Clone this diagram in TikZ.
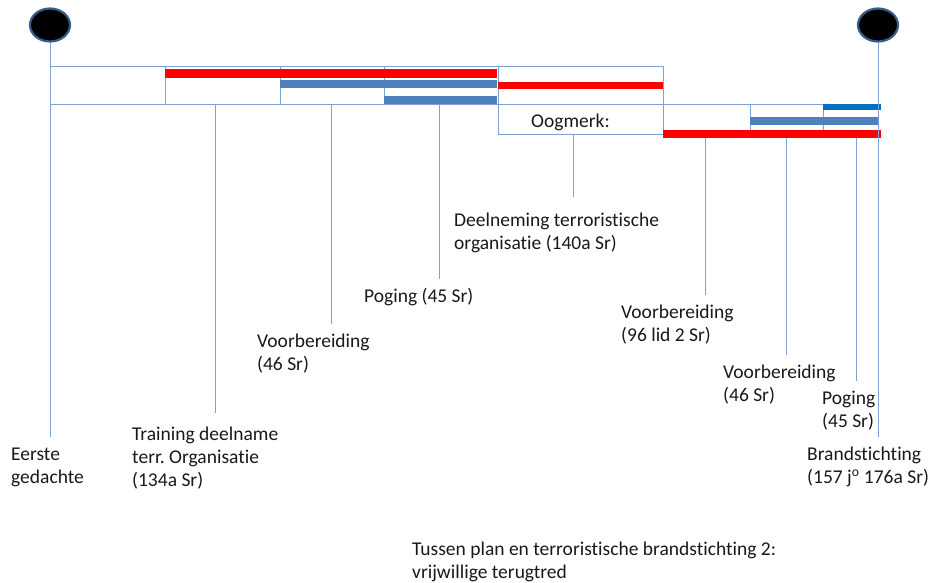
\documentclass[tikz,border=0pt]{standalone}
\usepackage{fontspec}
\setmainfont{Carlito}[Ligatures=NoCommon]
\usetikzlibrary{positioning,shapes.geometric}
\definecolor{gridblue}{RGB}{126,162,212}
\definecolor{barblue}{RGB}{79,129,189}
\definecolor{brightblue}{RGB}{0,112,192}
\definecolor{rimblue}{RGB}{56,93,138}
\frenchspacing

\begin{document}
\begin{tikzpicture}[x=1pt, y=-1pt, font=\fontsize{19.5}{23}\selectfont,
  cell/.style={draw=gridblue, line width=0.9pt, inner sep=0pt, outer sep=0pt, anchor=north west, minimum height=38pt},
  rcell/.style={cell, minimum height=30pt},
  lbl/.style={anchor=north west, align=left, inner sep=0pt, text=black!90},
  ptr/.style={draw=gridblue, line width=0.9pt, shorten >=8pt},
  dot/.style={ellipse, fill=black, draw=rimblue, line width=2.2pt, minimum width=40pt, minimum height=33pt},
  redbar/.style={fill=red},
  bluebar/.style={fill=barblue}]
\useasboundingbox (0,0) rectangle (932,582);
% upper row of cells
\node[cell, minimum width=115pt] (c1) at (50,66) {};
\node[cell, minimum width=115pt] (c2) at (c1.north east) {};
\node[cell, minimum width=104pt] (c3) at (c2.north east) {};
\node[cell, minimum width=114pt] (c4) at (c3.north east) {};
\node[cell, minimum width=165pt] (c5) at (c4.north east) {};
\node[rcell, minimum width=165pt] (oog) at (c4.south east) {};
\node[lbl, anchor=base west] (oogtxt) at (531,127) {Oogmerk:};
% right row of cells
\node[rcell, minimum width=87pt] (r1) at (oog.north east) {};
\node[rcell, minimum width=73pt] (r2) at (r1.north east) {};
\node[rcell, minimum width=55pt] (r3) at (r2.north east) {};
% bars
\fill[redbar] (165,69) rectangle (497,78);
\fill[bluebar] (280,80) rectangle (497,88);
\fill[bluebar] (384,96) rectangle (497,104);
\fill[redbar] (498,82) rectangle (663,89);
\fill[fill=brightblue] (823,104) rectangle (881,110);
\fill[bluebar] (750,117) rectangle (879,125);
\fill[redbar] (663,130) rectangle (881,138);
% begin and end of the plan
\node[dot] (lc) at (50,25) {};
\node[dot] (rc) at (878,25) {};
% labels
\node[lbl] (eerste) at (11,444.5) {\strut Eerste\\gedachte};
\node[lbl] (train) at (132,424.5) {\strut Training deelname\\terr. Organisatie\\(134a Sr)};
\node[lbl] (voorb1) at (257,331.5) {\strut Voorbereiding\\(46 Sr)};
\node[lbl] (pog1) at (364,286.5) {\strut Poging (45 Sr)};
\node[lbl] (deeln) at (454,210.5) {\strut Deelneming terroristische\\organisatie (140a Sr)};
\node[lbl] (voorb2) at (621,302.5) {\strut Voorbereiding\\(96 lid 2 Sr)};
\node[lbl] (voorb3) at (723,362.5) {\strut Voorbereiding\\(46 Sr)};
\node[lbl] (pog2) at (822,388.5) {\strut Poging\\(45 Sr)};
\node[lbl] (brand) at (807,444.5) {\strut Brandstichting\\(157 j\textsuperscript{o} 176a Sr)};
\node[lbl] (tussen) at (412,539.5) {\strut Tussen plan en terroristische brandstichting 2:\\vrijwillige terugtred};
% pointers
\coordinate (p1) at (215,104);
\coordinate (p2) at (331,104);
\coordinate (p3) at (439,104);
\coordinate (p4) at (573,134);
\coordinate (p5) at (705,138);
\coordinate (p6) at (786,138);
\coordinate (p7) at (856,138);
\draw[ptr] (lc.south) -- (lc.south |- eerste.north);
\draw[ptr, shorten >=12pt] (p1) -- (p1 |- train.north);
\draw[ptr] (p2) -- (p2 |- voorb1.north);
\draw[ptr] (p3) -- (p3 |- pog1.north);
\draw[ptr, shorten >=14pt] (p4) -- (p4 |- deeln.north);
\draw[ptr] (p5) -- (p5 |- voorb2.north);
\draw[ptr] (p6) -- (p6 |- voorb3.north);
\draw[ptr] (p7) -- (p7 |- pog2.north);
\draw[ptr] (rc.south) -- (rc.south |- brand.north);
\end{tikzpicture}
\end{document}
